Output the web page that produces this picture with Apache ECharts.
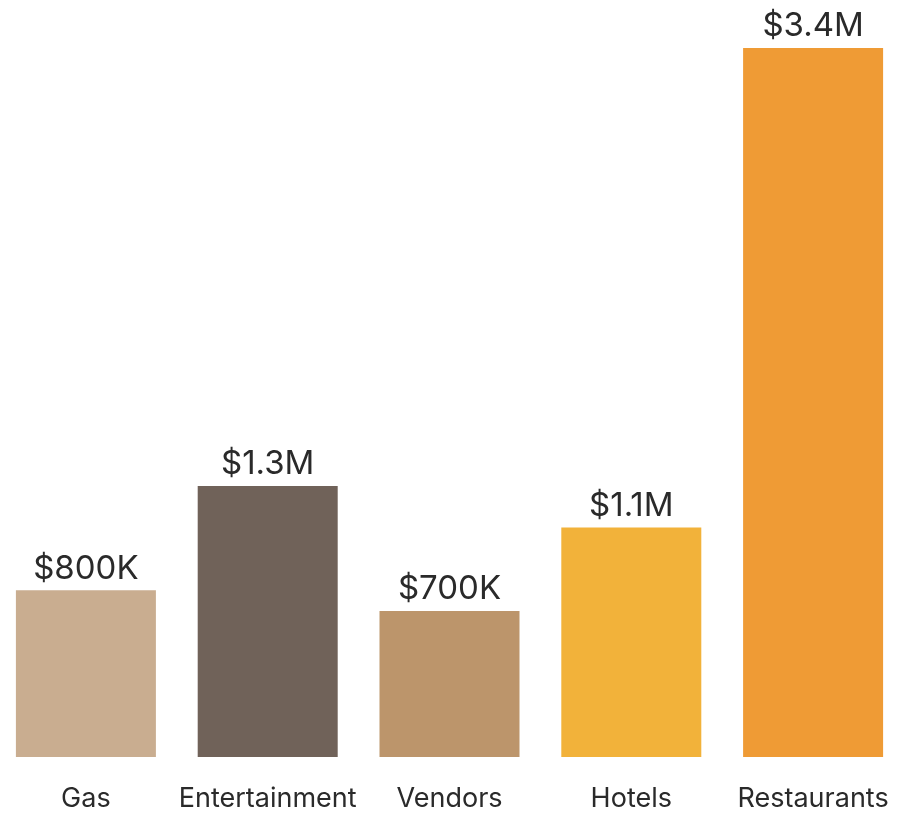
<!DOCTYPE html>
<html>
<head>
<meta charset="utf-8">
<script src="https://cdn.jsdelivr.net/npm/echarts@6/dist/echarts.min.js"></script>
<style>
    html, body { margin: 0; padding: 0; background: #fff; }
    #chart { width: 913px; height: 815px; }
</style>
</head>
<body>
<div id="chart"></div>
<script>
    // spending by category (dollars)
    var categories = ['Gas', 'Entertainment', 'Vendors', 'Hotels', 'Restaurants'];
    var amounts = [800000, 1300000, 700000, 1100000, 3400000];
    var barLabels = ['$800K', '$1.3M', '$700K', '$1.1M', '$3.4M'];
    var barColors = ['#C9AD90', '#706259', '#BC956B', '#F2B23A', '#EF9B35'];

    var myChart = echarts.init(document.getElementById('chart'));

    var seriesData = [];
    for (var i = 0; i < amounts.length; i++) {
        seriesData.push({
            value: amounts[i],
            itemStyle: { color: barColors[i] }
        });
    }

    var option = {
        backgroundColor: '#fff',
        animation: false,
        grid: {
            left: -5,
            right: 9,
            top: 48,
            bottom: 58,
            outerBoundsMode: 'none'
        },
        xAxis: {
            type: 'category',
            data: categories,
            axisLine: { show: false },
            axisTick: { show: false },
            axisLabel: {
                interval: 0,
                margin: 28,
                color: '#2a2a2a',
                fontSize: 27,
                fontFamily: 'Inter'
            }
        },
        yAxis: {
            type: 'value',
            min: 0,
            max: 3400000,
            show: false,
            splitLine: { show: false }
        },
        series: [{
            type: 'bar',
            barWidth: 140,
            data: seriesData,
            label: {
                show: true,
                position: 'top',
                distance: 5,
                color: '#2a2a2a',
                fontSize: 33,
                fontFamily: 'Inter',
                formatter: function (p) { return barLabels[p.dataIndex]; }
            }
        }]
    };

    myChart.setOption(option);
</script>
</body>
</html>
